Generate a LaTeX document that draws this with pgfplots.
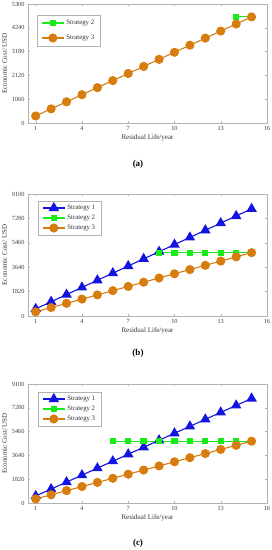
\documentclass[border=0pt]{standalone}
\usepackage{pgfplots}
\pgfplotsset{compat=1.18}
\usepackage{fontspec}
\setmainfont{Liberation Serif}

\definecolor{blueS}{RGB}{20,20,225}
\definecolor{greenS}{RGB}{25,235,25}
\definecolor{orangeS}{RGB}{215,125,15}

\pgfplotsset{
  mystyle/.style={
    scale only axis, width=239pt, xmin=0.5, xmax=16, ymin=0,
    xtick={1,4,7,10,13,16},
    tick align=inside, major tick length=2pt,
    axis line style={gray!60, line width=0.5pt},
    every tick/.style={gray!60, line width=0.4pt},
    tick label style={font=\fontsize{6.3}{7}\selectfont, text=black!75},
    /pgf/number format/assume math mode=true,
    /pgf/number format/1000 sep={},
    xlabel={Residual Life/year}, ylabel={Economic Cost/ USD},
    label style={font=\fontsize{7}{8}\selectfont, text=black!80},
    xlabel style={yshift=3pt},
    ylabel style={yshift=-2pt},
    legend style={font=\fontsize{6.8}{7.5}\selectfont, draw=gray!60, line width=0.5pt, anchor=north west, text=black!80},
    legend cell align=left,
    legend image code/.code={\draw[mark repeat=2,mark phase=2,##1] plot coordinates {(0pt,0pt)(11pt,0pt)(22pt,0pt)};},
    clip=false,
  },
  s1/.style={blueS, line width=1.1pt, mark=triangle*, mark size=5pt, mark options={solid, fill=blueS}},
  s2/.style={greenS, line width=1.1pt, mark=square*, mark size=2.6pt, mark options={solid, fill=greenS}},
  s3/.style={orangeS, line width=1.1pt, mark=*, mark size=4pt, mark options={solid, fill=orangeS}},
}

\begin{document}
\begin{tikzpicture}
\useasboundingbox (-28pt,123pt) rectangle (243pt,-427pt);

% (a)
\begin{axis}[mystyle, at={(0pt,0pt)}, anchor=south west, height=119pt,
  ymax=5300, ytick={0,1060,2120,3180,4240,5300},
  legend style={at={(0.038,0.91)}, inner xsep=4pt, inner ysep=3pt, row sep=5pt}]
\addplot[s2] coordinates {(14,4725)(15,4725)};
\addlegendentry{Strategy 2}
\addplot[s3] coordinates {(1,315)(2,630)(3,945)(4,1260)(5,1575)(6,1890)(7,2205)(8,2520)(9,2835)(10,3150)(11,3465)(12,3780)(13,4095)(14,4410)(15,4725)};
\addlegendentry{Strategy 3}
\end{axis}
\node[font=\bfseries\fontsize{9}{10}\selectfont] at (110pt,-41pt) {(a)};

% (b)
\begin{axis}[mystyle, at={(0pt,-193pt)}, anchor=south west, height=122pt,
  ymax=9100, ytick={0,1820,3640,5460,7280,9100},
  legend style={at={(0.042,0.945)}, inner xsep=4pt, inner ysep=2pt, row sep=0pt}]
\addplot[s1] coordinates {(1,533)(2,1066)(3,1599)(4,2132)(5,2665)(6,3198)(7,3731)(8,4264)(9,4797)(10,5330)(11,5863)(12,6396)(13,6929)(14,7462)(15,7995)};
\addlegendentry{Strategy 1}
\addplot[s2] coordinates {(9,4725)(10,4725)(11,4725)(12,4725)(13,4725)(14,4725)(15,4725)};
\addlegendentry{Strategy 2}
\addplot[s3] coordinates {(1,315)(2,630)(3,945)(4,1260)(5,1575)(6,1890)(7,2205)(8,2520)(9,2835)(10,3150)(11,3465)(12,3780)(13,4095)(14,4410)(15,4725)};
\addlegendentry{Strategy 3}
\end{axis}
\node[font=\bfseries\fontsize{9}{10}\selectfont] at (110pt,-230pt) {(b)};

% (c)
\begin{axis}[mystyle, at={(0pt,-380pt)}, anchor=south west, height=119pt,
  ymax=9100, ytick={0,1820,3640,5460,7280,9100},
  legend style={at={(0.042,0.935)}, inner xsep=4pt, inner ysep=2pt, row sep=0pt}]
\addplot[s1] coordinates {(1,533)(2,1066)(3,1599)(4,2132)(5,2665)(6,3198)(7,3731)(8,4264)(9,4797)(10,5330)(11,5863)(12,6396)(13,6929)(14,7462)(15,7995)};
\addlegendentry{Strategy 1}
\addplot[s2] coordinates {(6,4725)(7,4725)(8,4725)(9,4725)(10,4725)(11,4725)(12,4725)(13,4725)(14,4725)(15,4725)};
\addlegendentry{Strategy 2}
\addplot[s3] coordinates {(1,315)(2,630)(3,945)(4,1260)(5,1575)(6,1890)(7,2205)(8,2520)(9,2835)(10,3150)(11,3465)(12,3780)(13,4095)(14,4410)(15,4725)};
\addlegendentry{Strategy 3}
\end{axis}
\node[font=\bfseries\fontsize{9}{10}\selectfont] at (110pt,-420pt) {(c)};
\end{tikzpicture}
\end{document}
